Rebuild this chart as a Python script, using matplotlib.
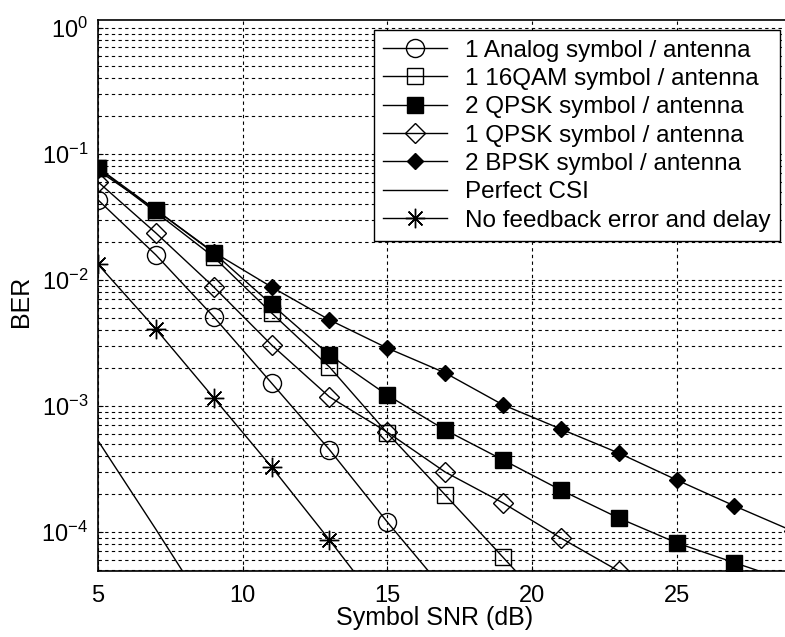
import matplotlib
matplotlib.use("Agg")
import matplotlib.pyplot as plt
import numpy as np

plt.rcParams['font.family'] = ['Liberation Sans', 'DejaVu Sans']
plt.rcParams['mathtext.fontset'] = 'custom'
plt.rcParams['mathtext.rm'] = 'Liberation Sans'

# symbol SNR (dB) at which each curve was evaluated
snr = [5, 7, 9, 11, 13, 15, 17, 19, 21, 23, 25, 27, 29]

ber_analog = [0.0432, 0.0158, 0.0051, 0.00152, 4.5e-4, 1.2e-4, 3.4e-5]
ber_16qam = [0.0775, 0.0345, 0.0152, 0.00547, 0.00204, 6.1e-4, 1.97e-4, 6.3e-5, 2.0e-5]
ber_2qpsk = [0.078, 0.036, 0.0164, 0.0064, 0.00254, 0.00122, 6.45e-4, 3.73e-4,
             2.15e-4, 1.29e-4, 8.2e-5, 5.7e-5, 4.0e-5]
ber_1qpsk = [0.060, 0.0236, 0.0088, 0.00305, 0.00118, 6.2e-4, 2.99e-4, 1.7e-4,
             8.95e-5, 4.9e-5, 2.6e-5]
ber_2bpsk = [0.074, 0.036, 0.0166, 0.00879, 0.00482, 0.00288, 0.00183, 0.00102,
             6.56e-4, 4.23e-4, 2.59e-4, 1.61e-4, 1.02e-4]
ber_perfect = [5.3e-4, 1.05e-4, 2.0e-5]
ber_nofb = [0.0133, 0.00408, 0.00116, 3.28e-4, 8.65e-5, 2.2e-5]

labels = ['1 Analog symbol / antenna', '1 16QAM symbol / antenna',
          '2 QPSK symbol / antenna', '1 QPSK symbol / antenna',
          '2 BPSK symbol / antenna', 'Perfect CSI', 'No feedback error and delay']

fig = plt.figure(figsize=(7.85, 6.37), dpi=100)
ax = fig.add_axes([98 / 785, 1 - 571 / 637, 1 - 98 / 785, 551 / 637])

k = dict(color='black', lw=1.0)
ax.semilogy(snr[:len(ber_analog)], ber_analog, marker='o', ms=13, mfc='none', mec='black', mew=1.0, label=labels[0], **k)
ax.semilogy(snr[:len(ber_16qam)], ber_16qam, marker='s', ms=11, mfc='none', mec='black', mew=1.0, label=labels[1], **k)
ax.semilogy(snr[:len(ber_2qpsk)], ber_2qpsk, marker='s', ms=11, mfc='black', mec='black', label=labels[2], **k)
ax.semilogy(snr[:len(ber_1qpsk)], ber_1qpsk, marker='D', ms=10, mfc='none', mec='black', mew=1.0, label=labels[3], **k)
ax.semilogy(snr[:len(ber_2bpsk)], ber_2bpsk, marker='D', ms=8, mfc='black', mec='black', label=labels[4], **k)
ax.semilogy(snr[:len(ber_perfect)], ber_perfect, label=labels[5], **k)
ax.semilogy(snr[:len(ber_nofb)], ber_nofb, marker=(8, 2, 0), ms=14, mec='black', mew=1.0, label=labels[6], **k)

ax.set_xlim(5, 28.75)
ax.set_ylim(10 ** -4.31, 10 ** 0.063)
ax.set_xticks([5, 10, 15, 20, 25])
ax.set_yticks([1e-4, 1e-3, 1e-2, 1e-1, 1e0])

# dashed grid on major x and on every y decade subdivision
ax.grid(True, which='major', axis='x', color='black', lw=0.8, ls=(0, (3, 3)))
ax.grid(True, which='both', axis='y', color='black', lw=0.8, ls=(0, (3, 3)))
ax.tick_params(which='both', direction='in', labelsize=17, color='black')
ax.tick_params(axis='x', pad=10)
ax.tick_params(axis='y', pad=7)
ax.spines['right'].set_visible(False)
for s in ['left', 'bottom', 'top']:
    ax.spines[s].set_linewidth(1.2)

ax.set_xlabel('Symbol SNR (dB)', fontsize=18)
ax.set_ylabel('BER', fontsize=18)
ax.xaxis.set_label_coords(0.49, -0.064)
ax.yaxis.set_label_coords(-0.095, 0.49)

leg = ax.legend(loc='upper right', bbox_to_anchor=(0.993, 0.982), borderaxespad=0,
                fontsize=17.5, fancybox=False, framealpha=1, edgecolor='black',
                labelspacing=0.26, handlelength=2.6, handletextpad=0.75, borderpad=0.4)
leg.get_frame().set_linewidth(1.0)

fig.savefig('out.png', dpi=100)
